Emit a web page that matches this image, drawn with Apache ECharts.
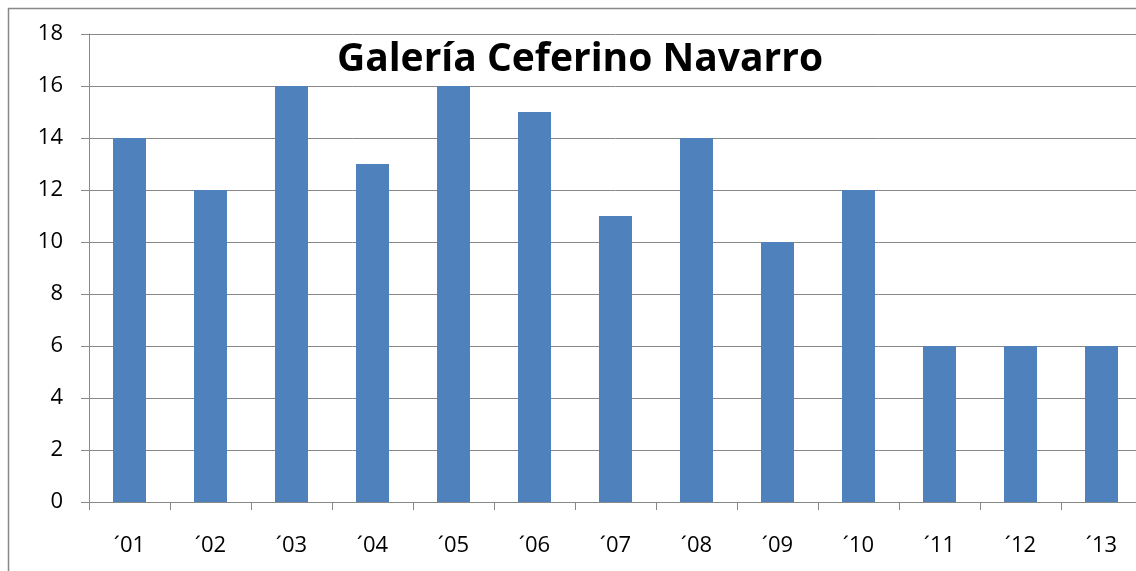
<!DOCTYPE html>
<html>
<head>
<meta charset="utf-8">
<script src="https://cdn.jsdelivr.net/npm/echarts@6/dist/echarts.min.js"></script>
<style>
html,body{margin:0;padding:0;background:#fff;overflow:hidden;width:1136px;height:571px;}
#main{width:1150px;height:571px;}
</style>
</head>
<body>
<div id="main"></div>
<script>
const titleText = 'Galería Ceferino Navarro';
const categories = ['´01','´02','´03','´04','´05','´06','´07','´08','´09','´10','´11','´12','´13'];
const values = [14, 12, 16, 13, 16, 15, 11, 14, 10, 12, 6, 6, 6];
const yTicks = {min: 0, max: 18, interval: 2};

const chart = echarts.init(document.getElementById('main'), null, {renderer: 'canvas'});
const gray = '#888888';
chart.setOption({
  animation: false,
  backgroundColor: '#ffffff',
  title: {
    text: titleText,
    left: 575,
    textAlign: 'center',
    top: 35,
    textStyle: {fontFamily: 'Open Sans', fontWeight: 'bold', fontSize: 39, color: '#000'}
  },
  graphic: [{
    type: 'rect',
    shape: {x: 8.5, y: 8.5, width: 1300, height: 700},
    style: {fill: 'none', stroke: gray, lineWidth: 1.5},
    silent: true
  }],
  grid: {left: 89, top: 34, width: 1053, height: 468, outerBoundsMode: 'none'},
  xAxis: {
    type: 'category',
    data: categories,
    axisLine: {show: true, lineStyle: {color: gray, width: 1}},
    axisTick: {show: true, length: 8, alignWithLabel: false, lineStyle: {color: gray}},
    axisLabel: {margin: 33, fontFamily: 'Open Sans', fontSize: 22, color: '#000'},
    splitLine: {show: false}
  },
  yAxis: {
    type: 'value',
    min: yTicks.min, max: yTicks.max, interval: yTicks.interval,
    axisLine: {show: true, lineStyle: {color: gray, width: 1}},
    axisTick: {show: true, length: 8, lineStyle: {color: gray}},
    axisLabel: {margin: 26, fontFamily: 'Open Sans', fontSize: 22, color: '#000'},
    splitLine: {show: true, lineStyle: {color: gray, width: 1}}
  },
  series: [{
    type: 'bar',
    data: values,
    barWidth: 33,
    itemStyle: {color: '#4F81BD'}
  }]
});
</script>
</body>
</html>
